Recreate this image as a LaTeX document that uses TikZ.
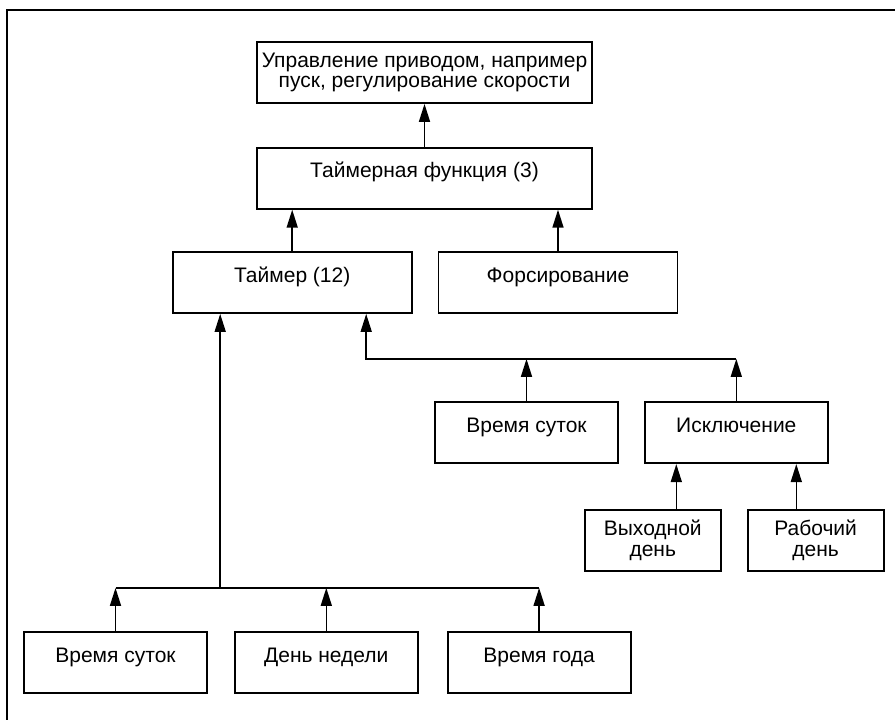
\documentclass[tikz,border=0pt]{standalone}
\usepackage{fontspec}
\setmainfont{Liberation Sans}
\usetikzlibrary{arrows.meta,positioning}
\tikzset{
 blk/.style={draw,line width=1.8pt,minimum width=183pt,minimum height=61pt,inner sep=0pt,
             text height=30pt,text depth=31pt,font=\fontsize{21}{21}\selectfont},
 blktwo/.style={draw,line width=1.8pt,minimum width=136pt,minimum height=61pt,inner sep=0pt,
             align=center,font=\fontsize{21}{20.5}\selectfont},
 arrow/.style={-{Triangle[length=18pt,width=11pt]},line width=1.6pt},
 bus/.style={line width=1.6pt}
}

\begin{document}
\begin{tikzpicture}[x=1pt,y=-1pt,node distance=25pt]
\useasboundingbox (0,0) rectangle (895,720);
\draw[line width=1.2pt] (7,720) -- (7,10) -- (895,10);

\node[blktwo,minimum width=335pt] (drv) at (424.5,72.5) {Управление приводом, например\\пуск, регулирование скорости};
\node[blk,minimum width=335pt,below=43pt of drv] (tfn) {Таймерная функция (3)};
\node[blk,minimum width=239pt] (tmr) at (292.2,282.5) {Таймер (12)};
\node[blk,minimum width=239pt,right=of tmr] (frc) {Форсирование};
\node[blk] (tday2) at (526.5,432.7) {Время суток};
\node[blk,right=of tday2] (exc) {Исключение};
\node[blktwo] (hol) at (652.8,540.5) {Выходной\\день};
\node[blktwo,right=of hol] (wrk) {Рабочий\\день};
\node[blk] (tday) at (115.5,662.7) {Время суток};
\node[blk,right=26pt of tday] (wday) {День недели};
\node[blk,right=28pt of wday] (year) {Время года};

% junction points
\coordinate (upR) at ([xshift=74pt,yshift=-45pt]tmr.south);
\coordinate (upL) at ([xshift=-72pt,yshift=-274pt]tmr.south);
\coordinate (excL) at ([xshift=-60pt]exc.south);
\coordinate (excR) at ([xshift=60pt]exc.south);

\draw[arrow] (tfn.north) -- (drv.south);
\draw[arrow] (tmr.north) -- (tmr.north |- tfn.south);
\draw[arrow] (frc.north) -- (frc.north |- tfn.south);

\draw[arrow] (upR -| exc.north) -- (upR) -- (upR |- tmr.south);
\draw[arrow] (tday2.north) -- (tday2.north |- upR);
\draw[arrow] (exc.north) -- (exc.north |- upR);
\draw[arrow] (excL |- hol.north) -- (excL);
\draw[arrow] (excR |- wrk.north) -- (excR);

\draw[bus] (upL -| tday.north) -- (upL -| year.north);
\draw[arrow] (upL) -- (upL |- tmr.south);
\foreach \n in {tday,wday,year}
  \draw[arrow] (\n.north) -- (\n.north |- upL);
\end{tikzpicture}
\end{document}
